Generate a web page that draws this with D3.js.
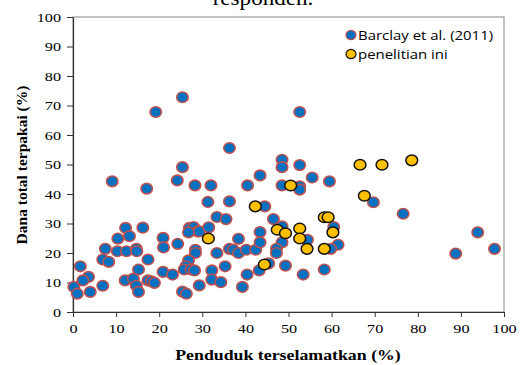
<!DOCTYPE html>
<html><head><meta charset="utf-8">
<script src="https://cdn.jsdelivr.net/npm/d3@7"></script>
<style>body{margin:0;background:#fff}svg{display:block}</style>
</head><body><svg id="c" width="527" height="365"></svg>
<script>
const seriesNames = ["Barclay et al. (2011)", "penelitian ini"];
const barclayX = [25.4,19.2,52.6,36.3,48.5,48.5,52.6,25.4,9.1,24.2,17.1,28.3,32.0,43.4,55.5,59.5,40.5,48.5,52.6,52.6,31.3,36.3,44.5,46.5,33.4,35.5,
27.0,28.0,28.9,26.8,29.3,31.5,12.2,16.2,13.1,10.4,20.9,21.0,24.3,7.5,10.3,12.4,14.7,14.8,
6.9,8.3,17.4,1.7,15.2,3.6,2.3,12.1,14.0,0.2,1.0,4.0,6.9,14.7,15.2,17.4,18.2,18.9,20.9,23.1,
28.4,28.4,33.4,36.3,37.2,38.4,38.4,40.2,42.4,26.8,26.2,25.8,27.4,28.2,32.2,35.3,32.2,34.3,29.3,25.4,26.3,40.4,39.3,
43.4,43.4,48.5,48.5,47.2,47.2,54.4,60.5,61.5,59.8,43.2,45.4,49.3,53.4,58.3,69.7,76.6,93.9,88.8,97.8];
const barclayY = [72.8,67.8,67.8,55.6,51.6,49.1,49.8,49.1,44.3,44.6,41.8,42.9,42.9,46.3,45.6,44.3,42.9,42.9,42.6,41.5,37.3,37.5,35.8,31.5,32.2,31.5,
28.5,28.8,27.3,27.0,27.3,28.7,28.5,28.6,25.7,24.9,25.1,21.9,23.1,21.4,20.6,20.6,21.4,20.6,
17.8,17.0,17.8,15.5,14.4,11.9,10.7,10.7,11.3,8.5,6.2,6.8,8.9,8.9,6.8,10.7,10.4,9.9,13.6,12.7,
21.1,20.0,20.0,21.4,21.1,24.8,20.0,21.1,21.1,17.5,15.5,14.4,14.4,14.1,14.1,15.5,11.0,10.1,9.0,6.9,6.2,12.7,8.5,
27.1,23.6,29.0,23.6,21.4,20.0,24.5,28.8,22.8,21.4,14.1,16.5,15.7,12.7,14.4,37.2,33.3,27.0,19.8,21.4];
const studyX = [31.4,42.3,50.5,47.4,49.3,52.6,52.6,54.3,58.3,59.2,60.3,58.3,44.4,66.6,71.7,78.6,67.6];
const studyY = [24.9,35.8,42.9,27.9,26.7,28.3,24.9,21.4,32.1,32.1,27.0,21.4,16.1,49.9,49.9,51.4,39.4];
const xTicks = [0,10,20,30,40,50,60,70,80,90,100];
const yTicks = [0,10,20,30,40,50,60,70,80,90,100];

const svg = d3.select("#c");
const m = {l:73, r:504, t:17, b:312};
const x = d3.scaleLinear().domain([0,100]).range([m.l, m.r]);
const y = d3.scaleLinear().domain([0,100]).range([m.b, m.t]);
const serif = "'Liberation Serif','Times New Roman',serif";
const sx = 1.2;

// title (cut off at top, as in the source)
svg.append("text").attr("transform","translate(263,5) scale(1.05,1)").attr("text-anchor","middle")
  .attr("font-family",serif).attr("font-size",22).attr("fill","#000").text("responden.");

// plot border
svg.append("rect").attr("x",m.l).attr("y",m.t).attr("width",m.r-m.l).attr("height",m.b-m.t)
  .attr("fill","none").attr("stroke","#888").attr("stroke-width",1);

const xa = svg.append("g").attr("transform",`translate(0,${m.b})`)
  .call(d3.axisBottom(x).tickValues(xTicks).tickSize(5).tickSizeOuter(0).tickPadding(6));
const ya = svg.append("g").attr("transform",`translate(${m.l},0)`)
  .call(d3.axisLeft(y).tickValues(yTicks).tickSize(6).tickSizeOuter(0).tickPadding(4));
[xa,ya].forEach(g=>{
  g.selectAll("path").attr("stroke","#333").attr("stroke-width",1.2);
  g.selectAll("line").attr("stroke","#333");
  g.selectAll("text").attr("font-family",serif).attr("font-size",13.5).attr("fill","#000")
    .attr("transform",`scale(${sx},1)`);
});

const pts = svg.append("g");
pts.selectAll("ellipse.b").data(barclayX.map((v,i)=>[v,barclayY[i]])).join("ellipse")
  .attr("class","b").attr("cx",d=>x(d[0])).attr("cy",d=>y(d[1])).attr("rx",5.7).attr("ry",5.3)
  .attr("fill","#0070C0").attr("stroke","#C0504D").attr("stroke-width",1.6);
pts.selectAll("ellipse.s").data(studyX.map((v,i)=>[v,studyY[i]])).join("ellipse")
  .attr("class","s").attr("cx",d=>x(d[0])).attr("cy",d=>y(d[1])).attr("rx",5.9).attr("ry",5.3)
  .attr("fill","#FFC000").attr("stroke","#111").attr("stroke-width",1.5);

// legend
const lg = svg.append("g");
const lgStyles = [{f:"#0070C0",s:"#C0504D"},{f:"#FFC000",s:"#111"}];
seriesNames.forEach((n,i)=>{
  const yy = 35 + i*19;
  lg.append("ellipse").attr("cx",351).attr("cy",yy).attr("rx",5).attr("ry",4.6)
    .attr("fill",lgStyles[i].f).attr("stroke",lgStyles[i].s).attr("stroke-width",1.2);
  lg.append("text").attr("transform",`translate(358,${yy}) scale(1.15,1)`).attr("dy","0.35em")
    .attr("font-family","'Open Sans','DejaVu Sans',sans-serif").attr("font-size",13).attr("fill","#000").text(n);
});

svg.append("text").attr("transform","translate(288,360) scale(1.15,1)").attr("text-anchor","middle")
  .attr("font-family",serif).attr("font-weight","bold").attr("font-size",15.5).text("Penduduk terselamatkan (%)");
svg.append("text").attr("transform","translate(27,165) rotate(-90)").attr("text-anchor","middle")
  .attr("font-family",serif).attr("font-weight","bold").attr("font-size",15.5).text("Dana total terpakai (%)");
</script></body></html>
